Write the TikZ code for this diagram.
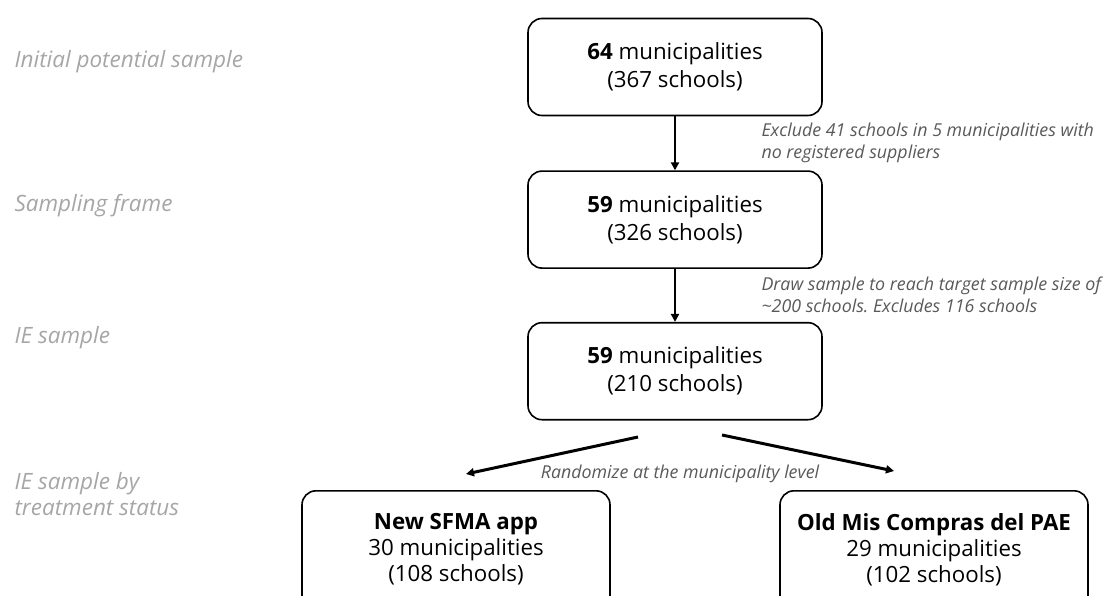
\documentclass[tikz,border=0pt]{standalone}
\usepackage{fontspec}
\setmainfont{Open Sans}
\usetikzlibrary{positioning,arrows.meta}
\definecolor{Side}{HTML}{A6A6A6}
\definecolor{Note}{HTML}{595959}
\frenchspacing

\begin{document}
\begin{tikzpicture}[
  x=1pt, y=-1pt,
  node distance=55pt,
  box/.style={
    draw=black,
    line width=1.6pt,
    rounded corners=14pt,
    align=center,
    font=\fontsize{22.3}{28}\selectfont,
    minimum width=294pt,
    minimum height=97pt
  },
  arm/.style={box, font=\fontsize{22.3}{26}\selectfont, minimum width=308pt, anchor=north, inner ysep=23pt, text depth=60pt},
  side/.style={anchor=west, align=left, text=Side, font=\fontsize{22.5}{26}\selectfont\itshape},
  note/.style={anchor=west, align=left, text=Note, font=\fontsize{17.8}{22.5}\selectfont\itshape},
  arr/.style={-{Triangle[length=8pt,width=8pt]}, line width=2.6pt}
]
\clip (0,0) rectangle (1108,596);

% flow boxes
\node[box] (n1) at (675,67) {\textbf{64} municipalities\\(367 schools)};
\node[box, below=54pt of n1] (n2) {\textbf{59} municipalities\\(326 schools)};
\node[box, below=53pt of n2] (n3) {\textbf{59} municipalities\\(210 schools)};
\node[arm] (t1) at (456,490) {\textbf{New SFMA app}\\30 municipalities\\(108 schools)};
\node[arm] (t0) at (934,490) {\textbf{Old Mis Compras del PAE}\\29 municipalities\\(102 schools)};

% stage labels
\node[side] (s1) at (11,62) {Initial potential sample};
\node[side] (s2) at (11,206) {Sampling frame};
\node[side] (s3) at (11,338) {IE sample};
\node[side] (s4) at (11,494) {IE sample by\\treatment status};

% notes
\node[note] (c1) at (758,143) {Exclude 41 schools in 5 municipalities with\\no registered suppliers};
\node[note] (c2) at (758,295) {Draw sample to reach target sample size of\\\textasciitilde200 schools. Excludes 116 schools};
\node[note, anchor=center] (c3) at (680,474) {Randomize at the municipality level};

\coordinate (l0) at (638,437);
\coordinate (l1) at (466,474);
\coordinate (r0) at (722,435);
\coordinate (r1) at (894,471);

\draw[arr] (n1) -- (n2);
\draw[arr] (n2) -- (n3);
\draw[arr, line width=3pt] (l0) -- (l1);
\draw[arr, line width=3pt] (r0) -- (r1);
\end{tikzpicture}
\end{document}
